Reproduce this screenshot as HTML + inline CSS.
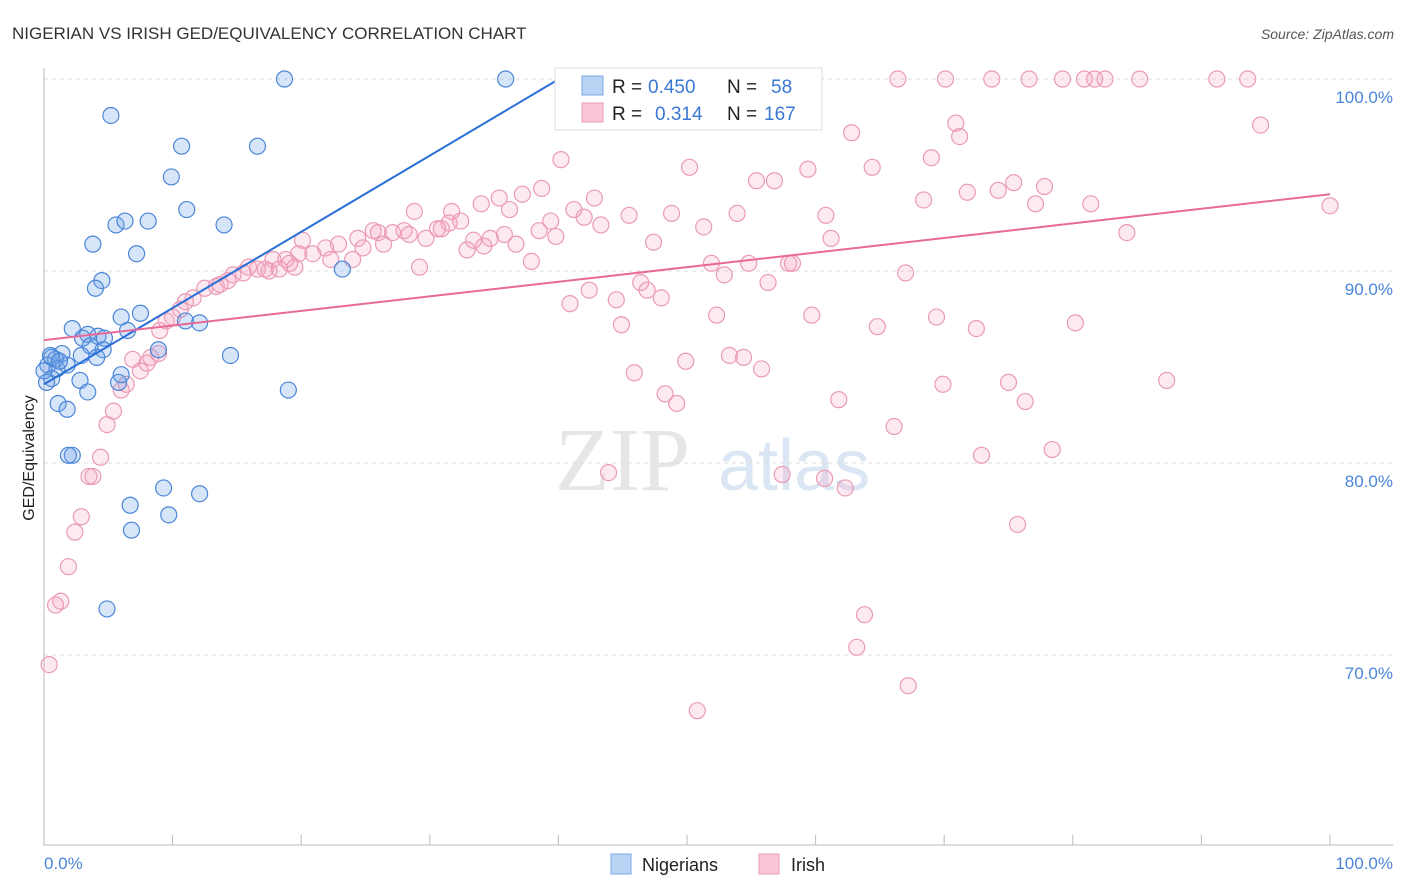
<!DOCTYPE html>
<html><head><meta charset="utf-8"><style>
body{margin:0;background:#fff;font-family:"Liberation Sans",sans-serif;}
svg{display:block}
</style></head><body>
<svg id="c" width="1406" height="892" xmlns="http://www.w3.org/2000/svg">
<text x="12" y="39" font-size="17" fill="#333">NIGERIAN VS IRISH GED/EQUIVALENCY CORRELATION CHART</text>
<text x="1394" y="39" font-size="14" fill="#555" font-style="italic" text-anchor="end">Source: ZipAtlas.com</text>
<g><text x="555" y="490" font-size="90" fill="#e6e6e6" font-family="Liberation Serif,serif">ZIP</text><text x="718" y="490" font-size="72" fill="#dbe6f4">atlas</text></g>
<g id="grid"></g><g id="marks"></g>
<text x="34" y="458" font-size="16" fill="#222" text-anchor="middle" transform="rotate(-90 34 458)">GED/Equivalency</text>
<text x="44" y="869" font-size="17" fill="#4a86d8">0.0%</text>
<text x="1393" y="869" font-size="17" fill="#4a86d8" text-anchor="end">100.0%</text>
<g>
<rect x="555" y="68" width="267" height="62" fill="#fff" stroke="#ddd"/>
<rect x="582" y="76" width="21" height="19" fill="#b9d3f5" stroke="#7aa7e6"/>
<rect x="582" y="103" width="21" height="19" fill="#f9c6d6" stroke="#eb9ab5"/>
<text x="612" y="93" font-size="19" fill="#222">R =</text>
<text x="648" y="93" font-size="19" fill="#3a78d4">0.450</text>
<text x="727" y="93" font-size="19" fill="#222">N =</text>
<text x="771" y="93" font-size="19" fill="#3a78d4">58</text>
<text x="612" y="120" font-size="19" fill="#222">R =</text>
<text x="655" y="120" font-size="19" fill="#3a78d4">0.314</text>
<text x="727" y="120" font-size="19" fill="#222">N =</text>
<text x="764" y="120" font-size="19" fill="#3a78d4">167</text>
</g>
<g>
<rect x="611" y="854" width="20" height="20" fill="#b9d3f5" stroke="#7aa7e6"/>
<text x="642" y="871" font-size="18" fill="#222">Nigerians</text>
<rect x="759" y="854" width="20" height="20" fill="#f9c6d6" stroke="#eb9ab5"/>
<text x="791" y="871" font-size="18" fill="#222">Irish</text>
</g>
</svg>
<script>
const yTicks=[100,90,80,70];
const yTickLabels=["100.0%","90.0%","80.0%","70.0%"];
const blueX=[18.7,35.9,5.2,10.7,16.6,9.9,11.1,5.6,6.3,8.1,14.0,3.8,7.2,4.5,4.0,6.0,7.5,11.0,12.1,6.5,2.2,3.4,4.2,4.7,3.0,3.6,4.6,8.9,2.9,4.1,14.5,1.4,0.5,0.9,0.3,1.0,1.8,0.6,0.2,2.8,5.8,6.0,3.4,19.0,1.1,1.8,2.2,1.9,9.3,12.1,6.7,9.7,6.8,4.9,23.2,0.6,1.2,0];
const blueY=[100,100,98.1,96.5,96.5,94.9,93.2,92.4,92.6,92.6,92.4,91.4,90.9,89.5,89.1,87.6,87.8,87.4,87.3,86.9,87.0,86.7,86.6,86.5,86.5,86.1,85.9,85.9,85.6,85.5,85.6,85.7,85.6,85.4,85.1,84.9,85.1,84.4,84.2,84.3,84.2,84.6,83.7,83.8,83.1,82.8,80.4,80.4,78.7,78.4,77.8,77.3,76.5,72.4,90.1,85.5,85.3,84.8];
const pinkX=[58.8,66.4,70.1,73.7,76.6,79.2,80.9,81.7,82.5,85.2,91.2,93.6,94.6,70.9,71.2,62.8,69.0,50.2,64.4,59.4,40.2,55.4,56.8,75.4,74.2,77.8,71.8,38.7,37.2,35.4,34.0,42.8,68.4,77.1,81.4,100,41.2,36.2,31.7,28.8,45.5,48.8,53.9,60.8,42.0,31.5,32.4,39.4,43.3,51.3,30.6,30.9,25.6,26.0,27.1,28.0,38.5,84.2,24.4,28.4,29.7,39.8,33.4,34.7,35.8,61.2,47.4,22.9,20.1,21.9,24.8,26.4,32.9,34.2,36.7,19.8,20.9,22.3,18.8,24.0,19.1,17.8,37.9,51.9,54.8,57.9,58.2,17.5,15.9,16.6,17.2,15.5,14.7,18.3,19.5,29.2,52.9,67.0,14.3,46.4,56.3,13.4,12.5,13.7,42.4,46.9,11.6,11.0,48.0,44.5,40.9,10.6,10.0,9.5,52.3,59.7,69.4,80.2,44.9,64.8,72.5,9.0,8.9,8.3,6.9,8.0,53.3,54.4,49.9,55.8,7.5,45.9,6.4,6.0,87.3,69.9,75.0,48.3,61.8,76.3,49.2,5.4,4.9,66.1,4.4,72.9,78.4,43.9,57.4,3.5,3.8,62.3,60.7,2.9,75.7,2.4,1.9,1.3,0.9,63.8,63.2,0.4,67.2,50.8];
const pinkY=[100,100,100,100,100,100,100,100,100,100,100,100,97.6,97.7,97.0,97.2,95.9,95.4,95.4,95.3,95.8,94.7,94.7,94.6,94.2,94.4,94.1,94.3,94.0,93.8,93.5,93.8,93.7,93.5,93.5,93.4,93.2,93.2,93.1,93.1,92.9,93.0,93.0,92.9,92.8,92.5,92.6,92.6,92.4,92.3,92.2,92.2,92.1,92.0,92.0,92.1,92.1,92.0,91.7,91.9,91.7,91.8,91.6,91.7,91.9,91.7,91.5,91.4,91.6,91.2,91.2,91.4,91.1,91.3,91.4,90.9,90.9,90.6,90.6,90.6,90.4,90.6,90.5,90.4,90.4,90.4,90.4,90.0,90.2,90.1,90.1,89.9,89.8,90.1,90.2,90.2,89.8,89.9,89.5,89.4,89.4,89.2,89.1,89.3,89.0,89.0,88.6,88.4,88.6,88.5,88.3,88.0,87.6,87.4,87.7,87.7,87.6,87.3,87.2,87.1,87.0,86.9,85.7,85.5,85.4,85.2,85.6,85.5,85.3,84.9,84.8,84.7,84.1,83.8,84.3,84.1,84.2,83.6,83.3,83.2,83.1,82.7,82.0,81.9,80.3,80.4,80.7,79.5,79.4,79.3,79.3,78.7,79.2,77.2,76.8,76.4,74.6,72.8,72.6,72.1,70.4,69.5,68.4,67.1];
const blueFit=[84.1,0.397];
const pinkFit=[86.4,0.076];
const sx=v=>44+v*12.86, sy=v=>79+(100-v)*19.2;
const NS="http://www.w3.org/2000/svg";
const grid=document.getElementById('grid'), marks=document.getElementById('marks');
function mk(p,tag,a){const e=document.createElementNS(NS,tag);for(const k in a)e.setAttribute(k,a[k]);p.appendChild(e);return e;}
yTicks.forEach((t,i)=>{
 const l=mk(grid,'line',{x1:44,x2:1393,y1:sy(t),y2:sy(t),stroke:'#ddd','stroke-dasharray':'4,4'});
 
 
 const tx=mk(grid,'text',{x:1393,y:sy(t)+24,'font-size':17,fill:'#4a86d8','text-anchor':'end'});
 tx.textContent=yTickLabels[i];
 
 
});
const ax=mk(grid,'path',{d:'M44 68V845H1393',fill:'none',stroke:'#bbb'});


for(let i=0;i<=10;i++){const t=mk(grid,'line',{x1:sx(i*10),x2:sx(i*10),y1:835,y2:845,stroke:'#bbb'});
 
 }
function pts(X,Y,st,fi,name){X.forEach((x,i)=>{const c=mk(marks,'circle',{cx:sx(x),cy:sy(Y[i]),r:8,fill:fi,stroke:st,'stroke-width':1.2});
 
 });}
pts(pinkX,pinkY,'#eb9ab5','rgba(244,160,190,0.22)','irish-point');
pts(blueX,blueY,'#4a86d8','rgba(110,160,230,0.28)','nigerian-point');
const bx2=(100-blueFit[0])/blueFit[1];
const bl=mk(marks,'line',{x1:sx(0),y1:sy(blueFit[0]),x2:sx(bx2),y2:sy(100),stroke:'#2a6fd6','stroke-width':2});


const pl=mk(marks,'line',{x1:sx(0),y1:sy(pinkFit[0]),x2:sx(100),y2:sy(pinkFit[0]+pinkFit[1]*100),stroke:'#e86a98','stroke-width':2});


</script>
</body></html>
